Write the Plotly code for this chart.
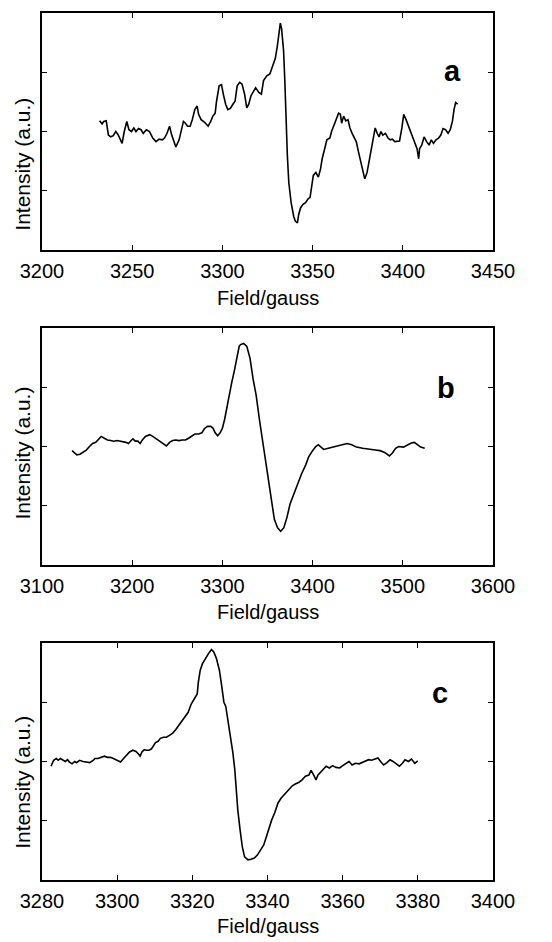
import plotly.graph_objects as go

# ---------------- data (Field in gauss, intensity in arbitrary units) ----------------
field_a = [3231.9, 3233.3, 3234.2, 3235.6, 3236.8, 3238.1, 3239.5, 3240.9, 3242.1, 3243.3,
           3244.4, 3245.6, 3247.0, 3248.2, 3249.6, 3250.9, 3252.1, 3253.5, 3254.9, 3256.1,
           3257.9, 3259.6, 3261.4, 3263.2, 3264.9, 3266.7, 3267.9, 3269.3, 3270.7, 3271.9,
           3272.8, 3274.2, 3276.0, 3277.2, 3278.4, 3279.5, 3280.7, 3282.1, 3283.3, 3284.7,
           3286.0, 3286.8, 3288.2, 3290.0, 3292.1, 3293.5, 3294.7, 3296.0, 3296.7, 3298.2,
           3299.5, 3300.5, 3301.8, 3303.0, 3304.4, 3305.8, 3307.0, 3308.2, 3309.6, 3310.9,
           3312.3, 3313.5, 3314.6, 3315.8, 3317.0, 3318.4, 3320.2, 3321.6, 3322.8, 3324.6,
           3326.3, 3328.1, 3329.3, 3330.4, 3331.1, 3331.6, 3332.1, 3332.8, 3333.9, 3334.6,
           3335.1, 3336.0, 3336.8, 3338.1, 3339.5, 3340.4, 3341.6, 3342.3, 3343.3, 3344.7,
           3346.1, 3347.4, 3348.6, 3349.6, 3350.4, 3351.8, 3353.2, 3354.4, 3355.3, 3356.7,
           3357.9, 3359.6, 3360.5, 3361.9, 3363.2, 3364.4, 3365.4, 3366.1, 3367.2, 3368.4,
           3369.6, 3370.7, 3371.9, 3373.2, 3374.2, 3375.4, 3376.7, 3377.7, 3378.9, 3380.2,
           3381.2, 3382.5, 3383.7, 3384.7, 3385.8, 3386.8, 3387.9, 3388.9, 3390.4, 3391.8,
           3393.0, 3394.2, 3395.6, 3397.0, 3398.2, 3399.5, 3400.5, 3401.8, 3403.0, 3404.4,
           3405.8, 3407.0, 3407.9, 3408.8, 3409.3, 3410.5, 3411.8, 3413.2, 3414.6, 3415.8,
           3417.0, 3418.4, 3419.8, 3421.1, 3422.3, 3423.7, 3425.1, 3426.3, 3427.5, 3428.4,
           3429.3, 3430.4]
intensity_a = [2.18, 2.13, 2.17, 2.18, 1.94, 1.91, 1.93, 2.00, 1.95, 1.86,
               1.80, 2.00, 2.17, 2.03, 2.00, 2.06, 2.00, 2.05, 2.03, 1.97,
               2.03, 2.00, 1.89, 1.83, 1.87, 1.86, 1.89, 1.97, 2.09, 1.94,
               1.86, 1.74, 1.86, 2.00, 2.17, 2.14, 2.09, 2.09, 2.20, 2.37,
               2.43, 2.29, 2.20, 2.16, 2.09, 2.17, 2.26, 2.31, 2.50, 2.77,
               2.79, 2.63, 2.46, 2.37, 2.39, 2.46, 2.51, 2.77, 2.83, 2.80,
               2.63, 2.40, 2.46, 2.60, 2.66, 2.74, 2.66, 2.63, 2.86, 2.94,
               2.97, 3.11, 3.23, 3.43, 3.57, 3.74, 3.83, 3.74, 3.37, 2.86,
               2.29, 1.60, 1.14, 0.80, 0.57, 0.49, 0.46, 0.60, 0.71, 0.77,
               0.80, 0.86, 0.89, 1.09, 1.26, 1.31, 1.23, 1.37, 1.54, 1.71,
               1.86, 1.89, 2.00, 2.11, 2.23, 2.31, 2.29, 2.14, 2.26, 2.18,
               2.20, 2.06, 1.97, 1.89, 1.83, 1.66, 1.49, 1.31, 1.20, 1.31,
               1.49, 1.71, 1.89, 2.06, 1.97, 1.91, 2.00, 1.94, 1.97, 1.89,
               1.86, 1.87, 1.83, 1.83, 1.84, 2.06, 2.29, 2.20, 2.11, 2.00,
               1.89, 1.80, 1.71, 1.54, 1.71, 1.77, 1.91, 1.83, 1.77, 1.86,
               1.80, 1.86, 1.89, 1.94, 2.05, 2.03, 1.97, 2.03, 2.17, 2.37,
               2.49, 2.46]

field_b = [3133.3, 3136.1, 3138.6, 3142.1, 3145.6, 3149.1, 3152.6, 3156.1, 3159.6, 3162.1,
           3165.6, 3169.1, 3172.6, 3176.1, 3179.6, 3183.2, 3186.7, 3190.2, 3193.0, 3195.8,
           3198.2, 3200.7, 3203.5, 3206.3, 3208.8, 3211.2, 3214.7, 3219.3, 3222.8, 3226.3,
           3229.8, 3233.3, 3237.9, 3241.4, 3244.9, 3248.4, 3251.9, 3255.4, 3259.0, 3262.5,
           3266.0, 3269.5, 3273.7, 3277.2, 3280.0, 3283.5, 3287.0, 3289.5, 3292.0, 3294.7,
           3297.5, 3300.0, 3302.5, 3305.3, 3308.1, 3310.5, 3313.0, 3315.8, 3318.6, 3320.1,
           3323.6, 3327.1, 3330.6, 3334.0, 3337.5, 3341.0, 3344.4, 3347.9, 3351.4, 3354.2,
           3357.6, 3361.1, 3364.6, 3368.1, 3371.5, 3375.0, 3379.2, 3383.3, 3387.8, 3392.4,
           3395.8, 3400.0, 3403.5, 3406.3, 3408.7, 3412.2, 3417.4, 3422.6, 3427.8, 3433.0,
           3438.2, 3443.4, 3448.6, 3455.6, 3462.5, 3469.4, 3474.7, 3479.9, 3485.1, 3488.5,
           3492.0, 3495.5, 3500.7, 3505.9, 3509.4, 3512.8, 3516.3, 3519.8, 3524.3]
intensity_b = [1.93, 1.89, 1.86, 1.87, 1.91, 1.94, 2.00, 2.05, 2.07, 2.11,
               2.17, 2.14, 2.11, 2.10, 2.09, 2.10, 2.09, 2.07, 2.07, 2.05,
               2.09, 2.13, 2.09, 2.09, 2.05, 2.11, 2.17, 2.20, 2.17, 2.13,
               2.09, 2.06, 2.01, 2.07, 2.10, 2.11, 2.10, 2.11, 2.11, 2.14,
               2.18, 2.21, 2.21, 2.23, 2.30, 2.34, 2.34, 2.31, 2.23, 2.18,
               2.23, 2.31, 2.46, 2.69, 2.94, 3.09, 3.26, 3.49, 3.69, 3.72,
               3.74, 3.69, 3.49, 3.14, 2.86, 2.46, 2.11, 1.77, 1.43, 1.09,
               0.77, 0.63, 0.57, 0.63, 0.80, 1.03, 1.20, 1.37, 1.54, 1.69,
               1.83, 1.93, 2.00, 2.03, 2.00, 1.95, 1.97, 1.99, 2.00, 2.03,
               2.05, 2.03, 1.99, 1.97, 1.95, 1.94, 1.93, 1.90, 1.84, 1.89,
               1.97, 2.00, 1.99, 2.03, 2.06, 2.07, 2.03, 1.99, 1.97]

field_c = [3282.4, 3283.1, 3283.8, 3284.3, 3284.9, 3285.6, 3286.2, 3286.8, 3287.3, 3288.0,
           3288.7, 3289.2, 3290.0, 3290.9, 3291.7, 3292.7, 3293.6, 3294.1, 3294.9, 3295.8,
           3296.6, 3297.4, 3298.2, 3299.0, 3299.8, 3300.9, 3301.7, 3302.5, 3303.3, 3304.2,
           3305.0, 3305.6, 3306.1, 3306.6, 3307.2, 3307.8, 3308.4, 3309.1, 3309.6, 3310.2,
           3310.9, 3311.5, 3312.3, 3313.1, 3313.9, 3314.8, 3315.6, 3316.4, 3317.2, 3318.0,
           3318.9, 3319.7, 3320.5, 3321.3, 3321.6, 3322.1, 3322.7, 3323.5, 3324.3, 3325.1,
           3325.7, 3326.4, 3327.2, 3327.8, 3328.4, 3328.9, 3329.6, 3330.2, 3330.8, 3331.3,
           3331.6, 3332.1, 3332.7, 3333.3, 3333.9, 3334.8, 3335.6, 3336.5, 3337.3, 3338.2,
           3339.0, 3339.7, 3340.3, 3341.1, 3341.9, 3342.8, 3343.6, 3344.5, 3345.5, 3346.6,
           3347.4, 3348.4, 3349.2, 3350.1, 3351.0, 3351.6, 3352.3, 3352.9, 3353.4, 3354.3,
           3355.0, 3355.6, 3356.5, 3357.3, 3358.2, 3359.2, 3360.0, 3360.8, 3361.7, 3362.5,
           3363.4, 3364.4, 3365.2, 3366.1, 3366.9, 3367.7, 3368.6, 3369.4, 3370.1, 3370.9,
           3371.8, 3372.6, 3373.4, 3374.3, 3375.1, 3375.9, 3376.6, 3377.5, 3378.3, 3379.2,
           3380.0]
intensity_c = [1.92, 2.02, 2.05, 2.02, 2.05, 2.03, 2.00, 2.03, 1.99, 1.96,
               2.00, 1.98, 2.02, 2.00, 1.99, 1.98, 2.02, 2.05, 2.05, 2.07,
               2.09, 2.07, 2.07, 2.05, 2.02, 1.99, 2.05, 2.10, 2.16, 2.19,
               2.17, 2.13, 2.09, 2.16, 2.20, 2.19, 2.19, 2.21, 2.27, 2.32,
               2.34, 2.39, 2.41, 2.41, 2.44, 2.48, 2.54, 2.61, 2.69, 2.77,
               2.83, 2.97, 3.06, 3.14, 3.34, 3.54, 3.65, 3.74, 3.82, 3.89,
               3.85, 3.74, 3.54, 3.28, 3.00, 2.93, 2.65, 2.42, 2.14, 1.86,
               1.52, 1.18, 0.85, 0.56, 0.39, 0.34, 0.35, 0.37, 0.42, 0.51,
               0.59, 0.73, 0.87, 1.01, 1.13, 1.30, 1.38, 1.44, 1.52, 1.59,
               1.62, 1.65, 1.69, 1.75, 1.77, 1.85, 1.77, 1.69, 1.77, 1.83,
               1.87, 1.92, 1.89, 1.93, 1.90, 1.89, 1.93, 1.97, 2.00, 1.94,
               1.97, 1.96, 1.98, 2.00, 2.03, 2.02, 2.04, 2.06, 2.00, 1.94,
               1.98, 2.03, 2.00, 1.96, 1.92, 1.97, 2.03, 2.00, 2.04, 1.97,
               2.01]

panel_labels = ["a", "b", "c"]
x_ranges = [[3200, 3450], [3100, 3600], [3280, 3400]]
x_dticks = [50, 100, 20]
x_title = "Field/gauss"
y_title = "Intensity (a.u.)"

# ---------------- figure ----------------
W, H = 552, 942
FONT = "Liberation Sans, Arial, sans-serif"

fig = go.Figure()
series = [(field_a, intensity_a), (field_b, intensity_b), (field_c, intensity_c)]
domains = [[0.7266, 1.0], [0.3633, 0.6367], [0.0, 0.2734]]
label_pos = [(0.911, 0.755), (0.896, 0.747), (0.882, 0.789)]
ytitle_pos = [0.36, 0.47, 0.41]
xtitle_shift = [-48, -47, -46]

for i, (xs, ys) in enumerate(series):
    n = "" if i == 0 else str(i + 1)
    fig.add_trace(go.Scatter(x=xs, y=ys, mode="lines",
                             line=dict(color="black", width=1.6),
                             xaxis="x" + n, yaxis="y" + n, showlegend=False))
    axis_common = dict(showline=True, linecolor="black", linewidth=1.8, mirror="ticks",
                       ticks="inside", ticklen=5, tickcolor="black", tickwidth=1.3,
                       showgrid=False, zeroline=False)
    fig.layout["xaxis" + n] = dict(
        axis_common, range=x_ranges[i], dtick=x_dticks[i], tick0=x_ranges[i][0],
        anchor="y" + n, domain=[0, 1],
        tickfont=dict(family=FONT, size=20, color="black"),
        ticklabelstandoff=2)
    fig.layout["yaxis" + n] = dict(
        axis_common, range=[0, 4], dtick=1, showticklabels=False,
        anchor="x" + n, domain=domains[i])
    xd = "x" + n + " domain"
    yd = "y" + n + " domain"
    fig.add_annotation(xref=xd, yref=yd, x=0.5, y=0, yshift=xtitle_shift[i],
                       text=x_title, showarrow=False, xanchor="center", yanchor="middle",
                       borderpad=0,
                       font=dict(family=FONT, size=20, color="black"))
    fig.add_annotation(xref=xd, yref=yd, x=0, y=ytitle_pos[i], xshift=-19,
                       text=y_title, showarrow=False, textangle=-90,
                       xanchor="center", yanchor="middle",
                       font=dict(family=FONT, size=21, color="black"))
    fig.add_annotation(xref=xd, yref=yd, x=label_pos[i][0], y=label_pos[i][1],
                       text="<b>" + panel_labels[i] + "</b>", showarrow=False,
                       xanchor="center", yanchor="middle",
                       font=dict(family=FONT, size=29, color="black"))

fig.update_layout(width=W, height=H, paper_bgcolor="white", plot_bgcolor="white",
                  margin=dict(l=42, r=59, t=13, b=62), hovermode=False)

fig.write_html("out.html", config={"displayModeBar": False, "staticPlot": True},
               post_script="document.body.style.margin='0';document.body.style.overflow='hidden';")
